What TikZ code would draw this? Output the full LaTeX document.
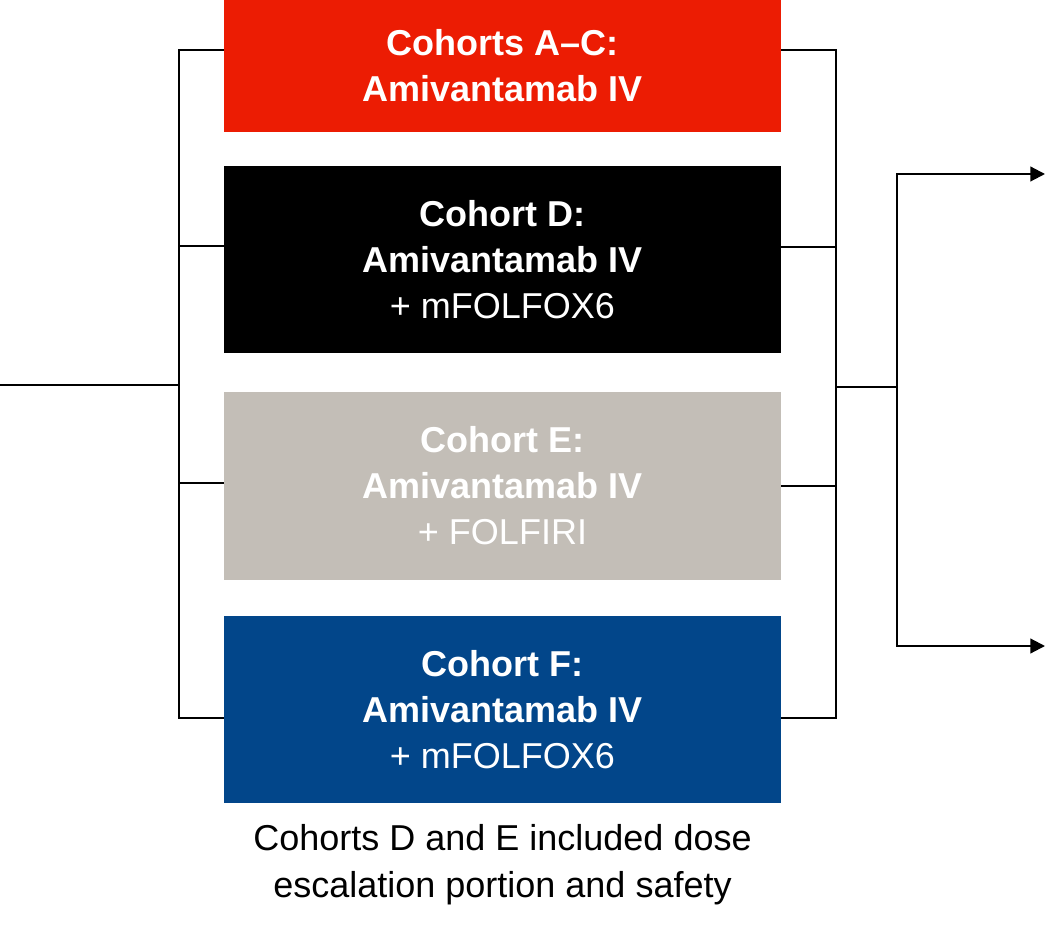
\documentclass[tikz,border=0pt]{standalone}
\usepackage{fontspec}
\setmainfont{Liberation Sans}
\definecolor{cohortred}{HTML}{EC1C03}
\definecolor{cohortgray}{HTML}{C3BEB7}
\definecolor{cohortblue}{HTML}{02468A}
\usetikzlibrary{arrows.meta,positioning,calc}

\tikzset{
    cohort/.style={minimum width=557*0.75pt, inner sep=0pt, align=center,
        text=white, font=\fontsize{27}{34.5}\selectfont},
    bus/.style={line width=1.6pt},
    outarrow/.style={bus,-{Triangle[length=11pt,width=11pt]}}
}

\begin{document}
\begin{tikzpicture}[x=0.75pt,y=-0.75pt]
    \useasboundingbox (0,0) rectangle (1060,930);
    % cohort boxes
    \node[cohort,fill=cohortred,minimum height=132*0.75pt] (ac) at (502.5,66)
        {\textbf{Cohorts A--C:}\\\textbf{Amivantamab IV}};
    \node[cohort,fill=black,minimum height=187*0.75pt] (d) at (502.5,259.5)
        {\textbf{Cohort D:}\\\textbf{Amivantamab IV}\\+ mFOLFOX6};
    \node[cohort,fill=cohortgray,minimum height=187*0.75pt] (e) at (502.5,486)
        {\textbf{Cohort E:}\\\textbf{Amivantamab IV}\\+ FOLFIRI};
    \node[cohort,fill=cohortblue,minimum height=187*0.75pt] (f) at (502.5,709.5)
        {\textbf{Cohort F:}\\\textbf{Amivantamab IV}\\+ mFOLFOX6};
    \node[font=\fontsize{27}{35}\selectfont,align=center] (note) at (502.5,865)
        {Cohorts D and E included dose\\escalation portion and safety};

    % left bracket
    \coordinate (in) at (0,385);
    \coordinate (lbus) at (179,385);
    \draw[bus] (in) -- (lbus);
    \draw[bus] (ac.west |- 0,50) -| (lbus) |- (f.west |- 0,718);
    \draw[bus] (lbus |- 0,246) -- (d.west |- 0,246);
    \draw[bus] (lbus |- 0,483) -- (e.west |- 0,483);

    % right bracket
    \coordinate (rbus) at (836,387);
    \coordinate (split) at (897,387);
    \draw[bus] (ac.east |- 0,50) -| (rbus) |- (f.east |- 0,718);
    \draw[bus] (d.east |- 0,247) -- (rbus |- 0,247);
    \draw[bus] (e.east |- 0,486) -- (rbus |- 0,486);
    \draw[bus] (rbus) -- (split);
    \coordinate (top) at (1045,174);
    \coordinate (bottom) at (1045,646);
    \draw[outarrow] (split) |- (top);
    \draw[outarrow] (split) |- (bottom);
\end{tikzpicture}
\end{document}
